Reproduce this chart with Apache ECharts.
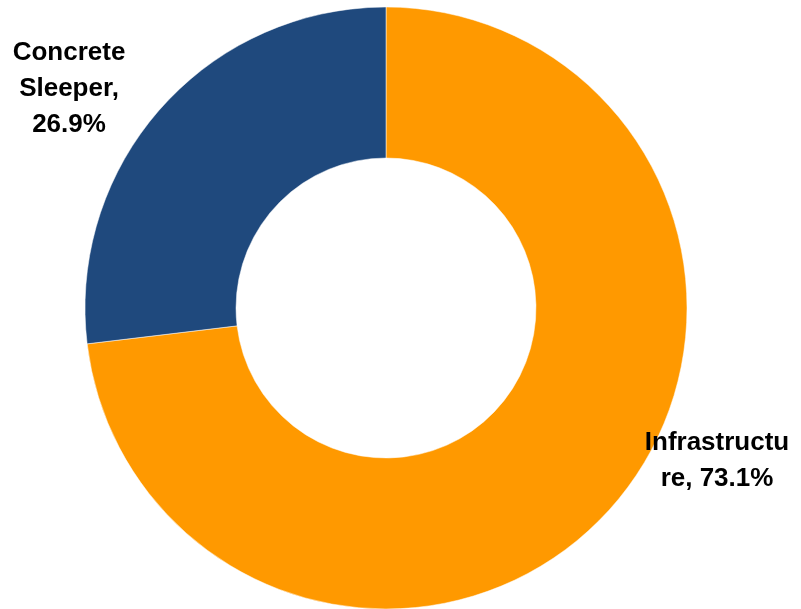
<!DOCTYPE html>
<html><head><meta charset="utf-8">
<script src="https://cdn.jsdelivr.net/npm/echarts@6/dist/echarts.min.js"></script>
<style>html,body{margin:0;padding:0;background:#fff}#c{width:801px;height:609px}</style>
</head><body><div id="c"></div>
<script>
const categories = ["Infrastructure", "Concrete Sleeper"];
const values = [73.1, 26.9];
const labelTexts = ["Infrastructu\nre, 73.1%", "Concrete\nSleeper,\n26.9%"];
const colors = ["#FF9900", "#1F497D"];
const labelPos = [[717, 461], [69, 89]];

const chart = echarts.init(document.getElementById('c'));
chart.setOption({
  animation: false,
  series: [{
    type: 'pie',
    center: [386, 308],
    radius: [150, 301],
    startAngle: 90,
    clockwise: true,
    data: categories.map((n, i) => ({
      name: n, value: values[i],
      itemStyle: { color: colors[i] },
      label: { formatter: labelTexts[i] }
    })),
    itemStyle: { borderColor: '#fff', borderWidth: 0.5 },
    label: {
      show: true, position: 'outside', overflow: 'none',
      fontFamily: 'Liberation Sans, Arial, sans-serif',
      fontWeight: 'bold', fontSize: 26, lineHeight: 36,
      color: '#000', align: 'center'
    },
    labelLine: { show: false },
    labelLayout: function (p) {
      return { x: labelPos[p.dataIndex][0], y: labelPos[p.dataIndex][1], align: 'center', verticalAlign: 'middle' };
    }
  }]
});
</script></body></html>
